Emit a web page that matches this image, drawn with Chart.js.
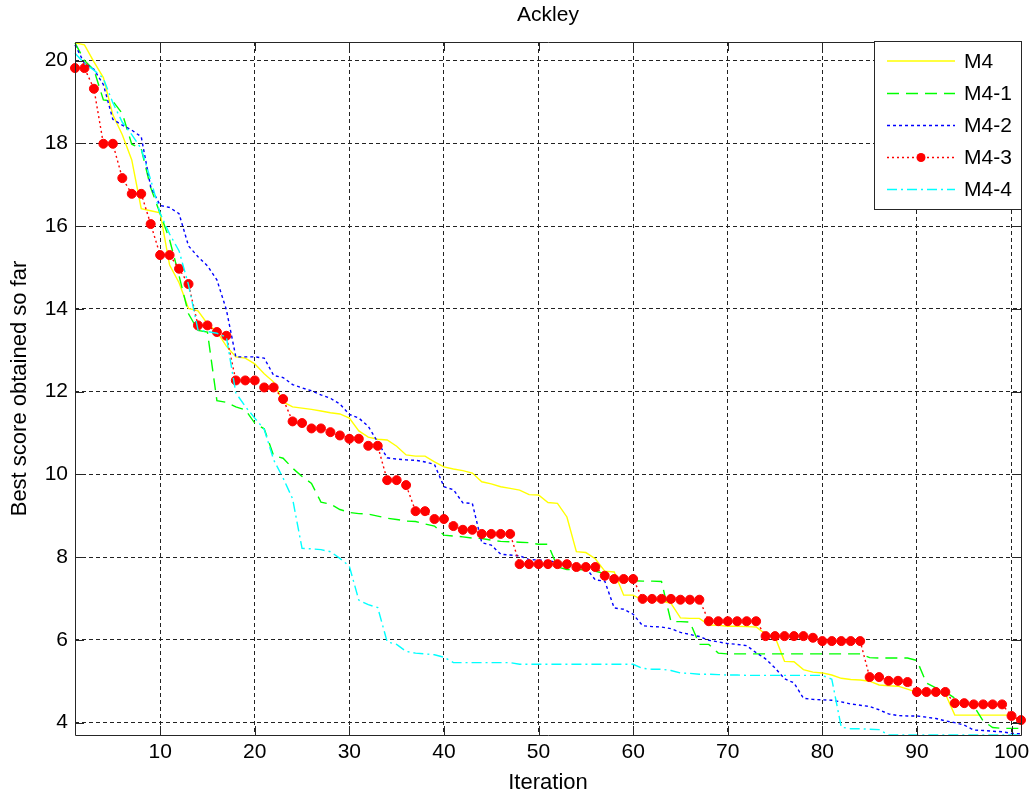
<!DOCTYPE html>
<html>
<head>
<meta charset="utf-8">
<title>Ackley</title>
<script src="https://cdn.jsdelivr.net/npm/chart.js@4.4.1/dist/chart.umd.min.js"></script>
<style>
  html, body { margin: 0; padding: 0; background: #ffffff; }
  #wrap { width: 1035px; height: 802px; position: relative; }
  canvas { display: block; }
</style>
</head>
<body>
<div id="wrap"><canvas id="c" width="1035" height="802"></canvas></div>
<script>
// ---------- data ----------
const seriesNames = ['M4', 'M4-1', 'M4-2', 'M4-3', 'M4-4'];

const m4 = [20.43,20.38,19.97,19.59,18.69,18.21,17.60,16.42,16.37,16.32,
  15.06,14.63,14.01,13.95,13.64,13.45,13.10,12.84,12.81,12.67,
  12.43,12.23,11.75,11.63,11.60,11.57,11.53,11.49,11.46,11.36,
  11.05,10.90,10.85,10.83,10.68,10.47,10.44,10.44,10.30,10.18,
  10.13,10.09,10.03,9.82,9.77,9.70,9.66,9.62,9.51,9.50,
  9.32,9.30,8.97,8.13,8.11,7.96,7.66,7.64,7.08,7.08,
  6.96,6.96,6.94,6.88,6.53,6.52,6.52,6.36,6.35,6.33,
  6.33,6.32,6.31,6.14,6.07,5.48,5.47,5.28,5.22,5.20,
  5.15,5.07,5.04,5.03,5.00,4.91,4.89,4.88,4.81,4.73,
  4.71,4.71,4.70,4.18,4.18,4.18,4.18,4.18,4.18,4.18,4.01];

const m4_1 = [20.43,20.00,19.78,19.05,19.02,18.72,17.98,17.87,16.93,16.30,
  15.67,14.80,13.88,13.48,13.44,11.78,11.74,11.63,11.56,11.24,
  11.10,10.45,10.39,10.15,9.95,9.78,9.33,9.28,9.15,9.08,
  9.05,9.04,8.99,8.94,8.91,8.87,8.86,8.80,8.75,8.53,
  8.51,8.49,8.46,8.45,8.41,8.38,8.37,8.36,8.35,8.31,
  8.31,7.76,7.70,7.70,7.69,7.66,7.60,7.49,7.46,7.43,
  7.42,7.42,7.41,6.44,6.44,6.43,5.89,5.89,5.68,5.66,
  5.66,5.66,5.66,5.66,5.66,5.66,5.66,5.66,5.66,5.66,
  5.66,5.66,5.66,5.66,5.57,5.56,5.56,5.56,5.56,5.50,
  4.96,4.84,4.74,4.59,4.47,4.40,4.04,3.88,3.86,3.86,3.86];

const m4_2 = [20.38,19.93,19.79,19.42,18.58,18.44,18.32,18.16,16.95,16.50,
  16.45,16.30,15.52,15.26,15.04,14.70,13.98,12.84,12.84,12.84,
  12.81,12.39,12.34,12.17,12.09,12.02,11.92,11.84,11.70,11.45,
  11.36,11.16,10.78,10.40,10.37,10.35,10.34,10.30,10.24,9.70,
  9.63,9.31,9.30,8.35,8.29,8.07,8.05,8.03,7.94,7.93,
  7.91,7.87,7.78,7.76,7.74,7.45,7.42,6.77,6.74,6.62,
  6.34,6.32,6.31,6.27,6.18,6.13,6.08,5.99,5.95,5.91,
  5.89,5.86,5.69,5.54,5.32,5.06,4.96,4.59,4.56,4.55,
  4.54,4.50,4.45,4.42,4.39,4.31,4.21,4.17,4.16,4.16,
  4.13,4.10,4.04,4.00,3.94,3.82,3.81,3.79,3.78,3.74,3.73];

const m4_3 = [19.82,19.82,19.32,17.99,17.99,17.16,16.78,16.78,16.05,15.30,
  15.30,14.97,14.60,13.60,13.60,13.44,13.35,12.27,12.27,12.27,
  12.10,12.10,11.82,11.28,11.24,11.11,11.11,11.02,10.94,10.86,
  10.86,10.69,10.69,9.86,9.86,9.74,9.11,9.11,8.92,8.92,
  8.75,8.66,8.66,8.56,8.56,8.56,8.56,7.83,7.83,7.83,
  7.83,7.83,7.83,7.76,7.76,7.76,7.55,7.47,7.47,7.47,
  6.99,6.99,6.99,6.99,6.97,6.97,6.97,6.45,6.45,6.45,
  6.45,6.45,6.45,6.09,6.09,6.09,6.09,6.09,6.05,5.97,
  5.97,5.97,5.97,5.97,5.10,5.10,5.01,5.01,4.98,4.74,
  4.74,4.74,4.74,4.47,4.47,4.44,4.44,4.44,4.44,4.16,4.06];

const m4_4 = [20.18,19.93,19.77,19.57,18.98,18.51,18.21,17.87,17.12,16.31,
  15.81,15.40,14.58,13.49,13.45,13.41,13.32,11.97,11.64,11.36,
  11.09,10.35,9.91,9.41,8.21,8.20,8.18,8.13,7.97,7.78,
  6.96,6.85,6.78,5.95,5.89,5.72,5.68,5.66,5.64,5.58,
  5.45,5.45,5.45,5.45,5.45,5.45,5.45,5.41,5.41,5.41,
  5.41,5.41,5.41,5.41,5.41,5.41,5.41,5.41,5.41,5.41,
  5.31,5.29,5.29,5.26,5.20,5.19,5.17,5.17,5.16,5.15,
  5.15,5.14,5.14,5.14,5.14,5.14,5.14,5.14,5.14,5.14,
  5.05,3.89,3.85,3.85,3.84,3.83,3.70,3.70,3.70,3.70,
  3.70,3.70,3.70,3.70,3.70,3.70,3.70,3.70,3.70,3.70,3.70];

// iteration numbers (x categories): 1 .. N
const iterations = m4.map((_, i) => i + 1);

const xTicks = [10, 20, 30, 40, 50, 60, 70, 80, 90, 100];
const yTicks = [4, 6, 8, 10, 12, 14, 16, 18, 20];
const xRange = [1, 101];
const yRange = [3.7, 20.45];

// ---------- styles ----------
const FONT = '"Liberation Sans", Arial, Helvetica, sans-serif';
const styles = [
  { color: '#ffff00', dash: [] },
  { color: '#00ff00', dash: [12, 7] },
  { color: '#0000ff', dash: [3, 3] },
  { color: '#ff0000', dash: [2, 3], marker: true },
  { color: '#00ffff', dash: [10, 4, 2, 4] }
];
const allSeries = [m4, m4_1, m4_2, m4_3, m4_4];

const datasets = allSeries.map((vals, k) => ({
  label: seriesNames[k],
  data: vals.map((v, i) => ({ x: iterations[i], y: v })),
  borderColor: styles[k].color,
  backgroundColor: styles[k].color,
  borderWidth: 1.4,
  borderDash: styles[k].dash,
  pointRadius: styles[k].marker ? 4.5 : 0,
  pointHoverRadius: styles[k].marker ? 4.5 : 0,
  pointBackgroundColor: styles[k].color,
  pointBorderColor: styles[k].color,
  pointBorderWidth: 1,
  pointStyle: 'circle',
  tension: 0,
  fill: false,
  clip: 8,
  order: 5 - k
}));

// ---------- MATLAB-like frame, inward ticks and legend ----------
const framePlugin = {
  id: 'matlabFrame',
  afterDraw(chart) {
    const { ctx, chartArea: a, scales } = chart;
    const xs = scales.x, ys = scales.y;
    const tl = 9;
    ctx.save();
    ctx.strokeStyle = '#262626';
    ctx.lineWidth = 1;
    ctx.setLineDash([]);
    ctx.beginPath();
    ctx.rect(Math.round(a.left) + 0.5, Math.round(a.top) + 0.5,
             Math.round(a.right - a.left), Math.round(a.bottom - a.top));
    ctx.stroke();
    ctx.beginPath();
    xTicks.forEach(v => {
      const px = Math.round(xs.getPixelForValue(v)) + 0.5;
      ctx.moveTo(px, a.bottom); ctx.lineTo(px, a.bottom - tl);
      ctx.moveTo(px, a.top); ctx.lineTo(px, a.top + tl);
    });
    yTicks.forEach(v => {
      const py = Math.round(ys.getPixelForValue(v)) + 0.5;
      ctx.moveTo(a.left, py); ctx.lineTo(a.left + tl, py);
      ctx.moveTo(a.right, py); ctx.lineTo(a.right - tl, py);
    });
    ctx.stroke();

    // legend box
    const bx = 874.5, by = 41.5, bw = 147, bh = 168;
    ctx.fillStyle = '#ffffff';
    ctx.fillRect(bx, by, bw, bh);
    ctx.strokeStyle = '#262626';
    ctx.strokeRect(bx, by, bw, bh);
    const rowY = [61, 93.5, 125.5, 157.5, 189.5];
    chart.data.datasets.forEach((ds, k) => {
      const y = rowY[k];
      ctx.save();
      ctx.strokeStyle = ds.borderColor;
      ctx.lineWidth = 1.4;
      ctx.setLineDash(ds.borderDash || []);
      ctx.beginPath();
      ctx.moveTo(887, y); ctx.lineTo(955, y);
      ctx.stroke();
      ctx.setLineDash([]);
      if (ds.pointRadius > 0) {
        ctx.fillStyle = ds.pointBackgroundColor;
        ctx.beginPath();
        ctx.arc(921, y, ds.pointRadius, 0, Math.PI * 2);
        ctx.fill();
      }
      ctx.restore();
      ctx.fillStyle = '#000000';
      ctx.font = '21px ' + FONT;
      ctx.textAlign = 'left';
      ctx.textBaseline = 'middle';
      ctx.fillText(ds.label, 964, y + 1);
    });
    ctx.restore();
  }
};

const chart = new Chart(document.getElementById('c'), {
  type: 'line',
  data: { datasets },
  options: {
    responsive: false,
    animation: false,
    devicePixelRatio: 1,
    layout: { padding: { left: 0, right: 14, top: 0, bottom: 0 } },
    plugins: {
      legend: { display: false },
      tooltip: { enabled: false },
      title: {
        display: true,
        fullSize: false,
        text: 'Ackley',
        color: '#000000',
        font: { family: FONT, size: 21, weight: 'normal', lineHeight: 1.2 },
        padding: { top: 3, bottom: 13.8 }
      }
    },
    scales: {
      x: {
        type: 'linear',
        min: xRange[0], max: xRange[1],
        afterBuildTicks: s => { s.ticks = xTicks.map(v => ({ value: v })); },
        afterFit: s => { s.height = 67; s.paddingLeft = 0; s.paddingRight = 0; },
        grid: { color: '#222222', lineWidth: 1, drawTicks: false },
        border: { display: false, dash: [4, 3] },
        ticks: {
          color: '#000000', padding: 5, maxRotation: 0, autoSkip: false,
          font: { family: FONT, size: 21 },
          callback: v => String(v)
        },
        title: {
          display: true, text: 'Iteration', color: '#000000',
          font: { family: FONT, size: 22, lineHeight: 1.2 },
          padding: { top: 0, bottom: 5.8 }
        }
      },
      y: {
        type: 'linear',
        min: yRange[0], max: yRange[1],
        afterBuildTicks: s => { s.ticks = yTicks.map(v => ({ value: v })); },
        afterFit: s => { s.width = 75; s.paddingTop = 0; s.paddingBottom = 0; },
        grid: { color: '#222222', lineWidth: 1, drawTicks: false },
        border: { display: false, dash: [4, 3] },
        ticks: {
          color: '#000000', padding: 7, autoSkip: false,
          font: { family: FONT, size: 21 },
          callback: v => String(v)
        },
        title: {
          display: true, text: 'Best score obtained so far', color: '#000000',
          font: { family: FONT, size: 22, lineHeight: 1.2 },
          padding: { top: 6.8, bottom: 0 }
        }
      }
    }
  },
  plugins: [framePlugin]
});
</script>
</body>
</html>
